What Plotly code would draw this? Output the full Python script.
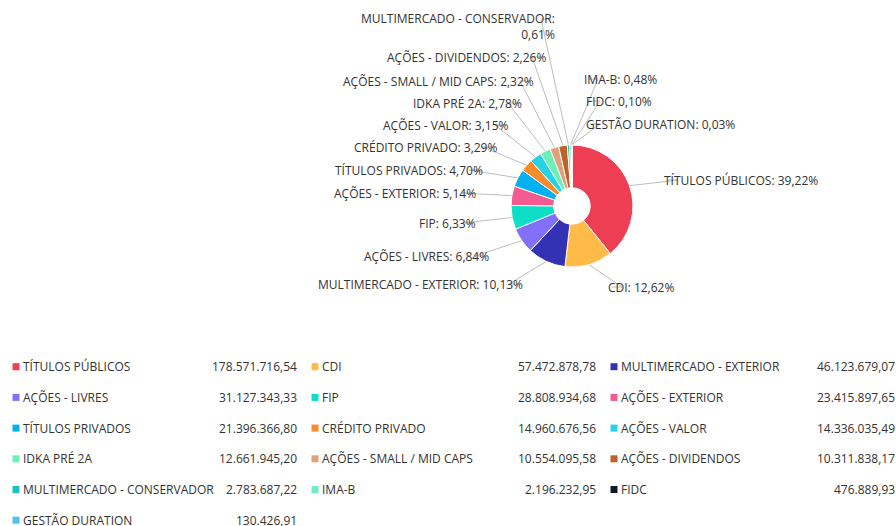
import math
import plotly.graph_objects as go

# ---------------- data ----------------
categories = [
    "TÍTULOS PÚBLICOS", "CDI", "MULTIMERCADO - EXTERIOR", "AÇÕES - LIVRES",
    "FIP", "AÇÕES - EXTERIOR", "TÍTULOS PRIVADOS", "CRÉDITO PRIVADO",
    "AÇÕES - VALOR", "IDKA PRÉ 2A", "AÇÕES - SMALL / MID CAPS", "AÇÕES - DIVIDENDOS",
    "MULTIMERCADO - CONSERVADOR", "IMA-B", "FIDC", "GESTÃO DURATION",
]
values = [
    178571716.54, 57472878.78, 46123679.07, 31127343.33,
    28808934.68, 23415897.65, 21396366.80, 14960676.56,
    14336035.49, 12661945.20, 10554095.58, 10311838.17,
    2783687.22, 2196232.95, 476889.93, 130426.91,
]

# ---------------- styles / layout ----------------
colors = [
    "#ee3e54", "#ffba47", "#3332b5", "#8270fa",
    "#0ddec5", "#f55a90", "#04b0f0", "#f88c2a",
    "#24d4e4", "#6cf0b8", "#e0a07a", "#c0602a",
    "#18c4c0", "#70ecc0", "#111827", "#4fc0f0",
]
# label text edge (x, y) in pixels and side (+1 right, -1 left)
label_pos = [
    (664, 180, 1), (608, 287, 1), (523, 284, -1), (489, 256, -1),
    (476, 223, -1), (476, 193, -1), (483, 170, -1), (497, 147, -1),
    (509, 125, -1), (522, 103, -1), (534, 81, -1), (546, 57, -1),
    (555, 19, -1), (584, 79, 1), (586, 101, 1), (586, 124, 1),
]
W, H = 896, 526
CX, CY, R = 572, 206, 61
FONT = "Open Sans"
TXT = "#333333"
FS = 12


def br_money(v):
    s = f"{v:,.2f}"
    return s.replace(",", "X").replace(".", ",").replace("X", ".")


def br_pct(p):
    return f"{p:.2f}".replace(".", ",") + "%"


total = sum(values)
pcts = [v / total * 100 for v in values]

fig = go.Figure()

# connector lines
lx, ly = [], []
cum = 0.0
for i, v in enumerate(values):
    mid = (cum + v / 2) / total
    cum += v
    ang = 2 * math.pi * mid
    tx = CX + R * math.sin(ang)
    ty = CY - R * math.cos(ang)
    ax, ay, s = label_pos[i]
    lx += [ax + s * 4, ax + s * 14, tx, None]
    ly += [ay, ay, ty, None]
fig.add_trace(go.Scatter(x=lx, y=ly, mode="lines", line=dict(color="#bdbdbd", width=1),
                         hoverinfo="skip", showlegend=False))

# pie
fig.add_trace(go.Pie(
    labels=categories, values=values, sort=False, direction="clockwise", rotation=0,
    hole=0.3, textinfo="none", marker=dict(colors=colors, line=dict(color="white", width=1)),
    domain=dict(x=[(CX - R) / W, (CX + R) / W], y=[1 - (CY + R) / H, 1 - (CY - R) / H]),
    showlegend=False, hoverinfo="label+percent",
))

annotations = []
for i, name in enumerate(categories):
    ax, ay, s = label_pos[i]
    txt = f"{name}: {br_pct(pcts[i])}"
    yanchor = "middle"
    y = ay
    if name == "MULTIMERCADO - CONSERVADOR":
        txt = f"{name}:<br>{br_pct(pcts[i])}"
        y = ay + 7
    annotations.append(dict(
        x=ax, y=y, xref="x", yref="y", text=txt, showarrow=False,
        xanchor="left" if s > 0 else "right", yanchor=yanchor,
        align="left" if s > 0 else "right",
        font=dict(family=FONT, size=FS, color=TXT), borderpad=0, borderwidth=0,
    ))

# legend table
col_w = 299
row_y0, row_dy = 366.7, 30.7
sq_x, sq_y = [], []
for i, name in enumerate(categories):
    r, c = divmod(i, 3)
    x0 = c * col_w
    y = row_y0 + r * row_dy
    sq_x.append(x0 + 16)
    sq_y.append(y)
    annotations.append(dict(
        x=x0 + 23, y=y, xref="x", yref="y", text=name, showarrow=False,
        xanchor="left", yanchor="middle", font=dict(family=FONT, size=FS, color=TXT),
        borderpad=0, borderwidth=0,
    ))
    annotations.append(dict(
        x=x0 + 297, y=y, xref="x", yref="y", text=br_money(values[i]), showarrow=False,
        xanchor="right", yanchor="middle", font=dict(family=FONT, size=FS, color=TXT),
        borderpad=0, borderwidth=0,
    ))
fig.add_trace(go.Scatter(x=sq_x, y=sq_y, mode="markers",
                         marker=dict(symbol="square", size=7, color=colors, line=dict(width=0)),
                         hoverinfo="skip", showlegend=False))

fig.update_layout(
    width=W, height=H, margin=dict(l=0, r=0, t=0, b=0),
    paper_bgcolor="white", plot_bgcolor="white",
    xaxis=dict(range=[0, W], visible=False, fixedrange=True),
    yaxis=dict(range=[H, 0], visible=False, fixedrange=True),
    annotations=annotations, showlegend=False,
    font=dict(family=FONT, size=FS, color=TXT),
)

fig.write_html("out.html")
